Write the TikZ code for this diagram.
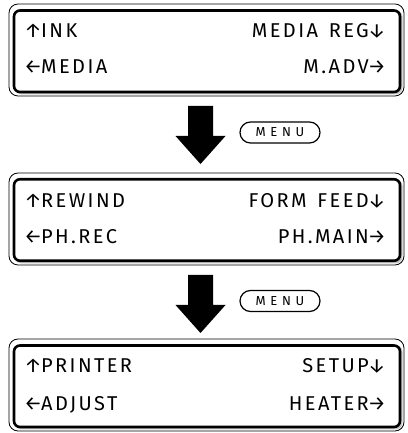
\documentclass[tikz,border=0pt]{standalone}
\usepackage{fontspec}
\setmainfont{Fira Sans}[LetterSpace=12,WordSpace=1.4]
\newfontfamily\menufont{Fira Sans}[LetterSpace=36]
\usetikzlibrary{shapes.misc}
\newcommand\ak{\kern-1pt}
\tikzset{
  bezel/.style={draw=black, line width=0.8pt, fill=white, rounded corners=9pt},
  bezelshade/.style={fill=gray!45, rounded corners=7pt},
  screen/.style={draw=black, line width=2.6pt, fill=white, rounded corners=6pt,
    minimum width=386pt, minimum height=81.5pt, inner sep=0pt},
  lcdl/.style={anchor=base west, inner sep=0pt, font=\fontsize{20}{22}\selectfont},
  lcdr/.style={anchor=base east, inner sep=0pt, font=\fontsize{20}{22}\selectfont},
  bigarrow/.style={fill=black},
  menukey/.style={draw=black, line width=1.2pt, rounded rectangle, minimum width=80pt,
    minimum height=21pt, inner sep=0pt, font=\menufont\fontsize{13}{13}\selectfont}
}
\begin{document}
\begin{tikzpicture}[x=1pt,y=1pt]
\useasboundingbox (0,0) rectangle (407,433);
% box 1
\draw[bezel] (9,429) rectangle (404,337);
\fill[bezelshade] (15,423) rectangle (402.5,338.5);
\node[screen] (s1) at (207,381.75) {};
\node[lcdl] (t1a) at (24,395.5) {↑\ak INK};
\node[lcdr] (t1b) at (386,395.5) {MEDIA REG\ak↓};
\node[lcdl] (t1c) at (24,359.8) {←\ak MEDIA};
\node[lcdr] (t1d) at (386,359.8) {M.ADV\ak→};
% box 2
\draw[bezel] (9,260) rectangle (404,168);
\fill[bezelshade] (15,254) rectangle (402.5,169.5);
\node[screen] (s2) at (207,213) {};
\node[lcdl] (t2a) at (24,225.5) {↑\ak REWIND};
\node[lcdr] (t2b) at (386,225.5) {FORM FEED\ak↓};
\node[lcdl] (t2c) at (24,189.5) {←\ak PH.REC};
\node[lcdr] (t2d) at (386,189.5) {PH.MAIN\ak→};
% box 3
\draw[bezel] (9,94) rectangle (404,2);
\fill[bezelshade] (15,88) rectangle (402.5,3.5);
\node[screen] (s3) at (207,46.75) {};
\node[lcdl] (t3a) at (24,60.2) {↑\ak PRINTER};
\node[lcdr] (t3b) at (386,60.2) {SETUP\ak↓};
\node[lcdl] (t3c) at (24,22) {←\ak ADJUST};
\node[lcdr] (t3d) at (386,22) {HEATER\ak→};
% arrows
\coordinate (a1) at (200.5,327);
\fill[bigarrow] (a1) ++(-12.5,0) -- ++(25,0) -- ++(0,-30) -- ++(12.5,0) -- ++(-25,-28) -- ++(-25,28) -- ++(12.5,0) -- cycle;
\coordinate (a2) at (200.5,158);
\fill[bigarrow] (a2) ++(-12.5,0) -- ++(25,0) -- ++(0,-30) -- ++(12.5,0) -- ++(-25,-28) -- ++(-25,28) -- ++(12.5,0) -- cycle;
\node[menukey] (m1) at (280,300.5) {MENU};
\node[menukey] (m2) at (280,132) {MENU};
\end{tikzpicture}
\end{document}
